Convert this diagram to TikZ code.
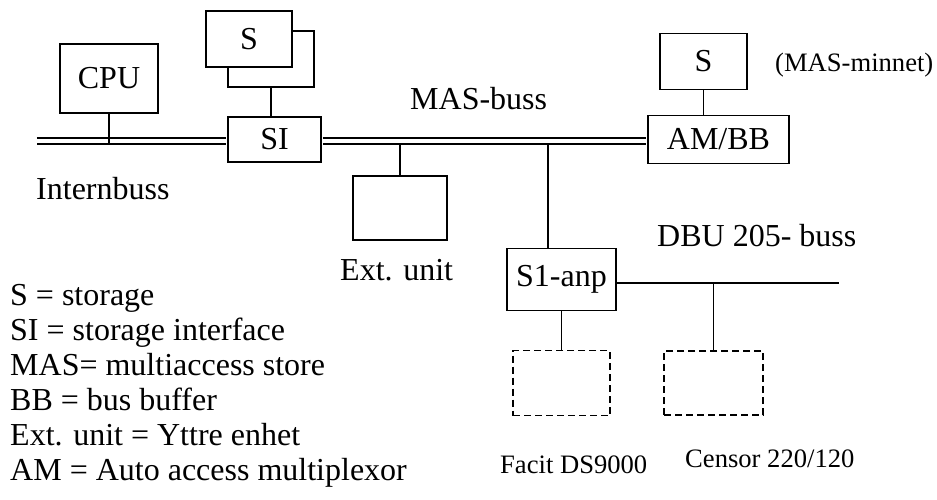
\documentclass[tikz,border=0pt]{standalone}
\usepackage{fontspec}
\setmainfont{Liberation Serif}
\usetikzlibrary{positioning,calc}

\begin{document}
\begin{tikzpicture}
    [x=1pt, y=1pt, node distance = 60pt, on grid,
     font=\fontsize{32}{35}\selectfont,
     box/.style = {draw, line width=1.8pt, fill=white, inner sep=0pt},
     dbox/.style = {box, dash pattern=on 7pt off 4pt},
     wire/.style = {line width=1.7pt},
     bus/.style = {line width=2pt, double distance=4pt, shorten >=0.9pt, shorten <=0.9pt},
     lbl/.style = {inner sep=0pt, anchor=base west},
     small/.style = {font=\fontsize{26.6}{30}\selectfont}]
\useasboundingbox (0,0) rectangle (937,-500);

\node[box, minimum width=98pt, minimum height=69pt](cpu) at (109,-78.5){CPU};
\node[box, minimum width=93pt, minimum height=45pt](si)[below right = 61pt and 165.5pt of cpu]{SI};
\node[box, minimum width=86pt, minimum height=56pt](sb)[above left = 80.5pt and 3.5pt of si]{};
\node[box, minimum width=86pt, minimum height=56pt](sf)[above left = 20pt and 22pt of sb]{S};
\node[box, minimum width=94pt, minimum height=64pt](ext)[below right = 68.5pt and 125.5pt of si]{};
\node[box, minimum width=141pt, minimum height=48pt](ambb)[right = 444pt of si]{AM/BB};
\node[box, minimum width=87pt, minimum height=56pt](sm)[above left = 78pt and 15pt of ambb]{S};
\node[box, minimum width=109pt, minimum height=62pt](s1)[below left = 140pt and 157pt of ambb]{S1-anp};
\node[dbox, minimum width=97pt, minimum height=65pt](d1)[below = 103.5pt of s1]{};
\node[dbox, minimum width=99pt, minimum height=64pt](d2)[right = 152pt of d1]{};

\coordinate (ibw) at (36,-141.3);
\coordinate (mtap) at (548,-141.3);
\coordinate (dbue) at (839,-283);

\path[wire]
    (sb.south) edge (sb.south |- si.north)
    (sm.south) edge (sm.south |- ambb.north)
    (ext.north) edge (ext.north |- ibw)
    (mtap) edge (mtap |- s1.north)
    (s1.south) edge (d1.north)
    (s1.east |- dbue) edge (dbue)
    (d2.north |- dbue) edge (d2.north);

\draw[bus] (ibw) -- (ibw -| si.west);
\draw[bus] (si.east |- ibw) -- (ibw -| ambb.west);
\draw[wire] (cpu.south) -- ($(cpu.south |- ibw)+(0,-3)$);

\node[lbl](intl) at (36,-199){Internbuss};
\node[lbl](masl) at (410,-110){MAS-buss};
\node[lbl, small](minl) at (775,-72){(MAS-minnet)};
\node[lbl](extl) at (340,-280){Ext. unit};
\node[lbl](dbul) at (657,-246){DBU 205- buss};
\node[lbl, small](facl) at (500,-473){Facit DS9000};
\node[lbl, small](cenl) at (685,-467){Censor 220/120};

\foreach \txt [count=\i] in {S = storage, SI = storage interface, MAS= multiaccess store,
    BB = bus buffer, Ext. unit = Yttre enhet, AM = Auto access multiplexor}
    \node[lbl](leg\i) at (10,{-270-35*\i}){\txt};
\end{tikzpicture}
\end{document}
